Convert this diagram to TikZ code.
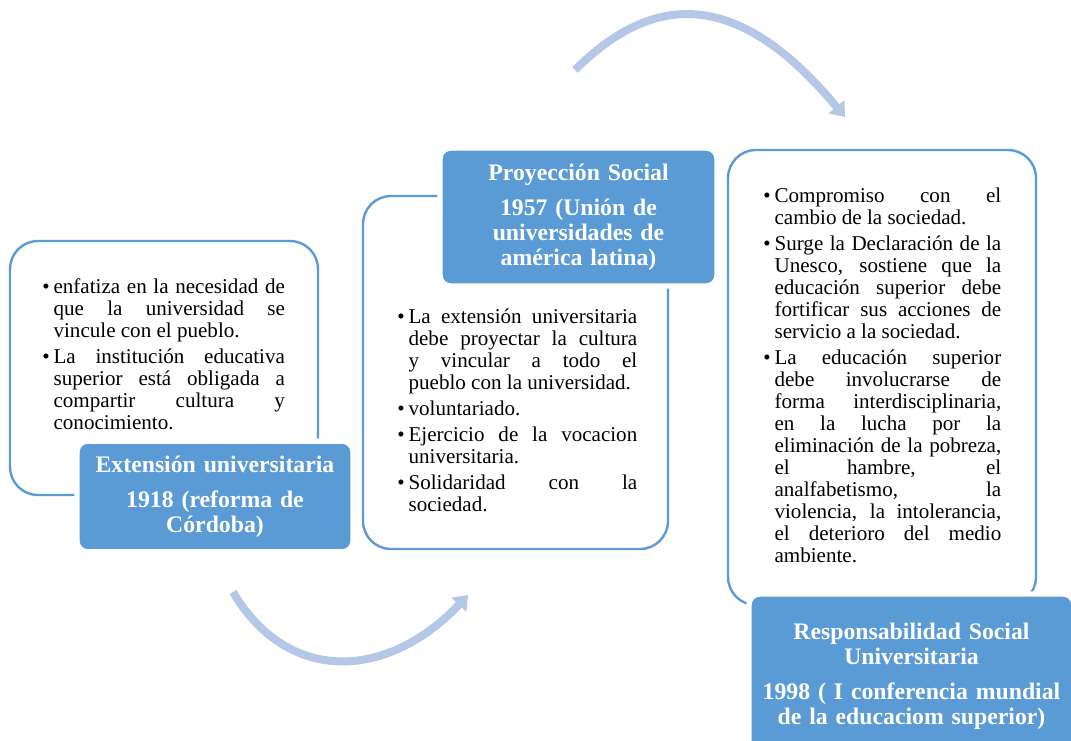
\documentclass[tikz,border=0pt]{standalone}
\usepackage{fontspec}
\setmainfont{Liberation Serif}
\usepackage{tikz}
\usepackage{xcolor}
\usetikzlibrary{arrows.meta}
\definecolor{azul}{RGB}{91,155,213}
\definecolor{azulclaro}{RGB}{180,199,231}
\newcommand{\ajustes}{\parskip=3pt\tolerance=10000\hbadness=10000\hyphenpenalty=10000\relax}
\newcommand{\vineta}{\hangindent=8.5pt\hangafter=1\noindent\makebox[8.5pt][l]{\textbullet}}

\begin{document}
\begin{tikzpicture}[x=0.75pt,y=0.75pt,
  marco/.style={draw=azul,line width=1.8pt,rounded corners=21pt,inner sep=0pt},
  titulo/.style={fill=azul,draw=white,line width=4pt,rounded corners=8pt,text=white,align=center,inner ysep=0pt,font=\fontsize{17.8}{18.75}\selectfont\bfseries},
  cuerpo/.style={anchor=north west,inner sep=0pt,align=justify,font=\fontsize{15.8}{16.5}\selectfont},
  flecha/.style={draw=azulclaro,line width=6pt,-{Triangle[width=15pt,length=10pt]}}]
\useasboundingbox (0,0) rectangle (1071,-740);
\clip (0,0) rectangle (1071,-740);
\node (marco1) [marco,minimum width=231pt,minimum height=190.5pt] at (164,-368) {};
\node (marco2) [marco,minimum width=228.75pt,minimum height=264.75pt] at (515.5,-372.5) {};
\node (marco3) [marco,minimum width=231pt,minimum height=341.25pt] at (882,-377.5) {};
\node (titulo1) [titulo,text width=190pt,minimum width=207pt,minimum height=83pt] at (215,-496.5) {Extensión universitaria\\[7.5pt]1918 (reforma de\\Córdoba)};
\node (titulo2) [titulo,text width=190pt,minimum width=207.75pt,minimum height=103.5pt] at (578.5,-217) {Proyección Social\\[7.5pt]1957 (Unión de\\universidades de\\américa latina)};
\node (titulo3) [titulo,text width=230pt,minimum width=243.75pt,minimum height=123pt] at (911.5,-676) {Responsabilidad Social\\Universitaria\\[7.5pt]1998 ( I conferencia mundial\\de la educaciom superior)};
\node (texto1) [cuerpo,text width=182pt] at (42,-278) {\ajustes
\vineta enfatiza en la necesidad de \linebreak que la universidad se \linebreak vincule con el pueblo.\par
\vineta La institución educativa \linebreak superior está obligada a \linebreak compartir cultura y \linebreak conocimiento.\par};
\node (texto2) [cuerpo,text width=180pt] at (397,-309) {\ajustes
\vineta La extensión universitaria \linebreak debe proyectar la cultura \linebreak y vincular a todo el \linebreak pueblo con la universidad.\par
\vineta voluntariado.\par
\vineta Ejercicio de la vocacion \linebreak universitaria.\par
\vineta Solidaridad con la \linebreak sociedad.\par};
\node (texto3) [cuerpo,text width=178.5pt] at (763,-188) {\ajustes
\vineta Compromiso con el \linebreak cambio de la sociedad.\par
\vineta Surge la Declaración de la \linebreak Unesco, sostiene que la \linebreak educación superior debe \linebreak fortificar sus acciones de \linebreak servicio a la sociedad.\par
\vineta La educación superior \linebreak debe involucrarse de \linebreak forma interdisciplinaria, \linebreak en la lucha por la \linebreak eliminación de la pobreza, \linebreak el hambre, el \linebreak analfabetismo, la \linebreak violencia, la intolerancia, \linebreak el deterioro del medio \linebreak ambiente.\par};
\coordinate (ini1) at (233,-592);
\coordinate (fin1) at (468,-595);
\draw[flecha] (ini1) .. controls (288,-685) and (388,-680) .. (fin1);
\coordinate (ini2) at (575,-70);
\coordinate (fin2) at (845,-117);
\draw[flecha] (ini2) .. controls (665,20) and (750,-3) .. (fin2);
\end{tikzpicture}
\end{document}
